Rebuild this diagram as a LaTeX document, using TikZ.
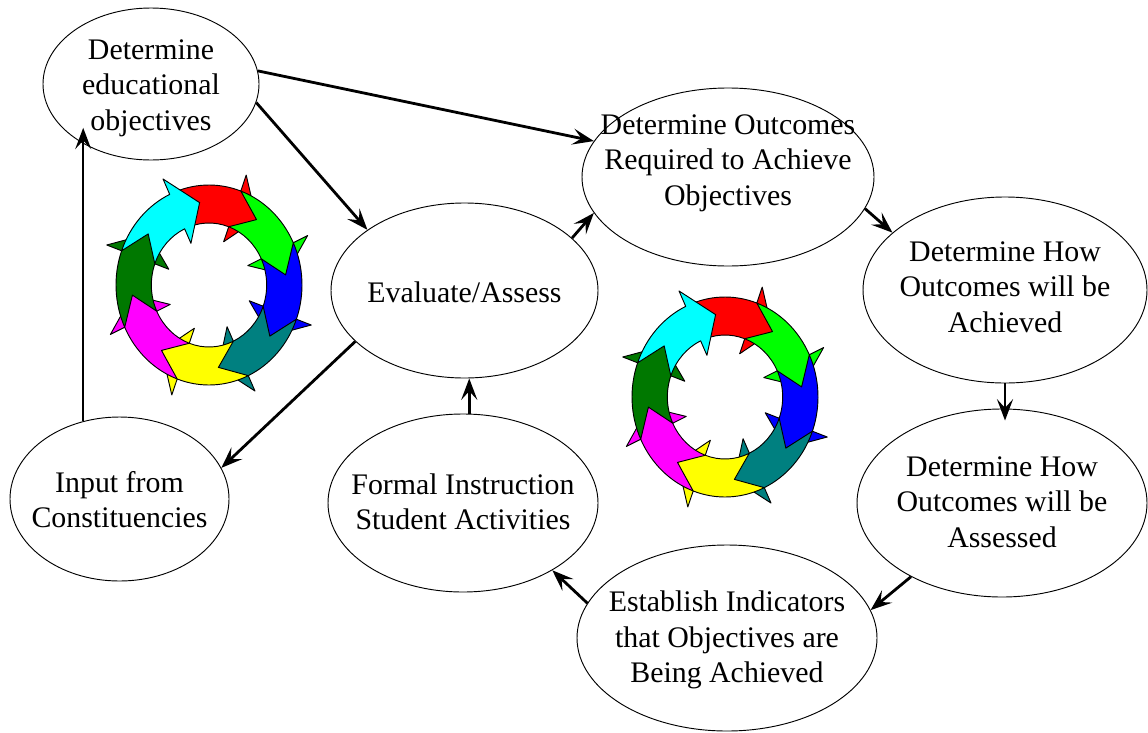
\documentclass[tikz,border=0pt]{standalone}
\usepackage{fontspec}
\setmainfont{Liberation Serif}
\usetikzlibrary{shapes.geometric,arrows.meta}
\definecolor{cRed}{RGB}{255,0,0}
\definecolor{cGreen}{RGB}{0,255,0}
\definecolor{cBlue}{RGB}{0,0,255}
\definecolor{cTeal}{RGB}{0,128,128}
\definecolor{cYellow}{RGB}{255,255,0}
\definecolor{cMagenta}{RGB}{255,0,255}
\definecolor{cDkGreen}{RGB}{0,120,0}
\definecolor{cCyan}{RGB}{0,255,255}
\begin{document}
\begin{tikzpicture}[x=0.75pt,y=-0.75pt,
  ell/.style={ellipse, draw, line width=0.7pt, inner sep=0pt},
  lbl/.style={align=center, inner sep=0pt, font=\fontsize{22.4}{26.5}\selectfont},
  conn/.style={-{Stealth[length=16pt,width=12pt,inset=6.5pt]}, line width=2.1pt},
  ringpiece/.style={draw=black, line width=0.7pt, line join=round}
]
\useasboundingbox[fill=white] (0,0) rectangle (1148,732);

% ellipses
\node[ell, minimum width=162pt, minimum height=114pt] (edu) at (151,84) {};
\node[ell, minimum width=219pt, minimum height=133.5pt] (outc) at (728,177) {};
\node[ell, minimum width=200.25pt, minimum height=131.25pt] (eval) at (464.5,290.5) {};
\node[ell, minimum width=213pt, minimum height=139.5pt] (ach) at (1005,290) {};
\node[ell, minimum width=217.5pt, minimum height=141pt] (ass) at (1002,503) {};
\node[ell, minimum width=225pt, minimum height=139.5pt] (est) at (727,638) {};
\node[ell, minimum width=202.5pt, minimum height=133.5pt] (formal) at (463,503) {};
\node[ell, minimum width=164.25pt, minimum height=123pt] (input) at (119.5,499) {};

% texts
\node[lbl] (edut) at (151,88) {Determine\\educational\\objectives};
\node[lbl] (outct) at (728,163) {Determine Outcomes\\Required to Achieve\\Objectives};
\node[lbl] (evalt) at (464.5,292) {Evaluate/Assess};
\node[lbl] (acht) at (1005,287) {Determine How\\Outcomes will be\\Achieved};
\node[lbl] (asst) at (1002,502) {Determine How\\Outcomes will be\\Assessed};
\node[lbl] (estt) at (727,640) {Establish Indicators\\that Objectives are\\Being Achieved};
\node[lbl] (formalt) at (463,502) {Formal Instruction\\Student Activities};
\node[lbl] (inputt) at (119.5,499.5) {Input from\\Constituencies};

% circular arrow rings
\foreach \cx/\cy in {209/285, 725/397} {
  \begin{scope}[shift={(\cx,\cy)}, xscale=93, yscale=-100]
    \foreach \c [count=\k from 0] in {cRed,cGreen,cBlue,cTeal,cYellow,cMagenta,cDkGreen,cCyan} {
      \pgfmathsetmacro\B{90-(20+45*\k)}
      \pgfmathsetmacro\A{\B+45}
      \pgfmathsetmacro\T{\B-18}
      \pgfmathsetmacro\N{\A-18}
      \path[ringpiece, fill=\c] (\A:1) arc[start angle=\A, end angle=\B, radius=1]
        -- (\B:1.17) -- (\T:0.83) -- (\B:0.46) -- (\B:0.62)
        arc[start angle=\B, end angle=\A, radius=0.62]
        -- (\N:0.83) -- cycle;
    }
  \end{scope}
}

% connectors
\draw[conn] (edu.7) -- (outc.165);
\draw[conn] (edu.-10) -- (eval.148);
\draw[conn] (eval.26) -- (outc.-165);
\draw[conn] (eval.205) -- (input.17);
\draw[conn, line width=1.7pt, shorten >=-6pt] (input.115) -- (input.115 |- edu.213);
\draw[conn] (outc.-13) -- (ach.153);
\draw[conn, shorten >=-9pt] (ach.south) -- (ach.south |- ass.north);
\draw[conn] (ass.219) -- (est.11);
\draw[conn] (est.166) -- (formal.-37);
\draw[conn] (formal.86) -- (formal.86 |- eval.south);
\end{tikzpicture}
\end{document}
